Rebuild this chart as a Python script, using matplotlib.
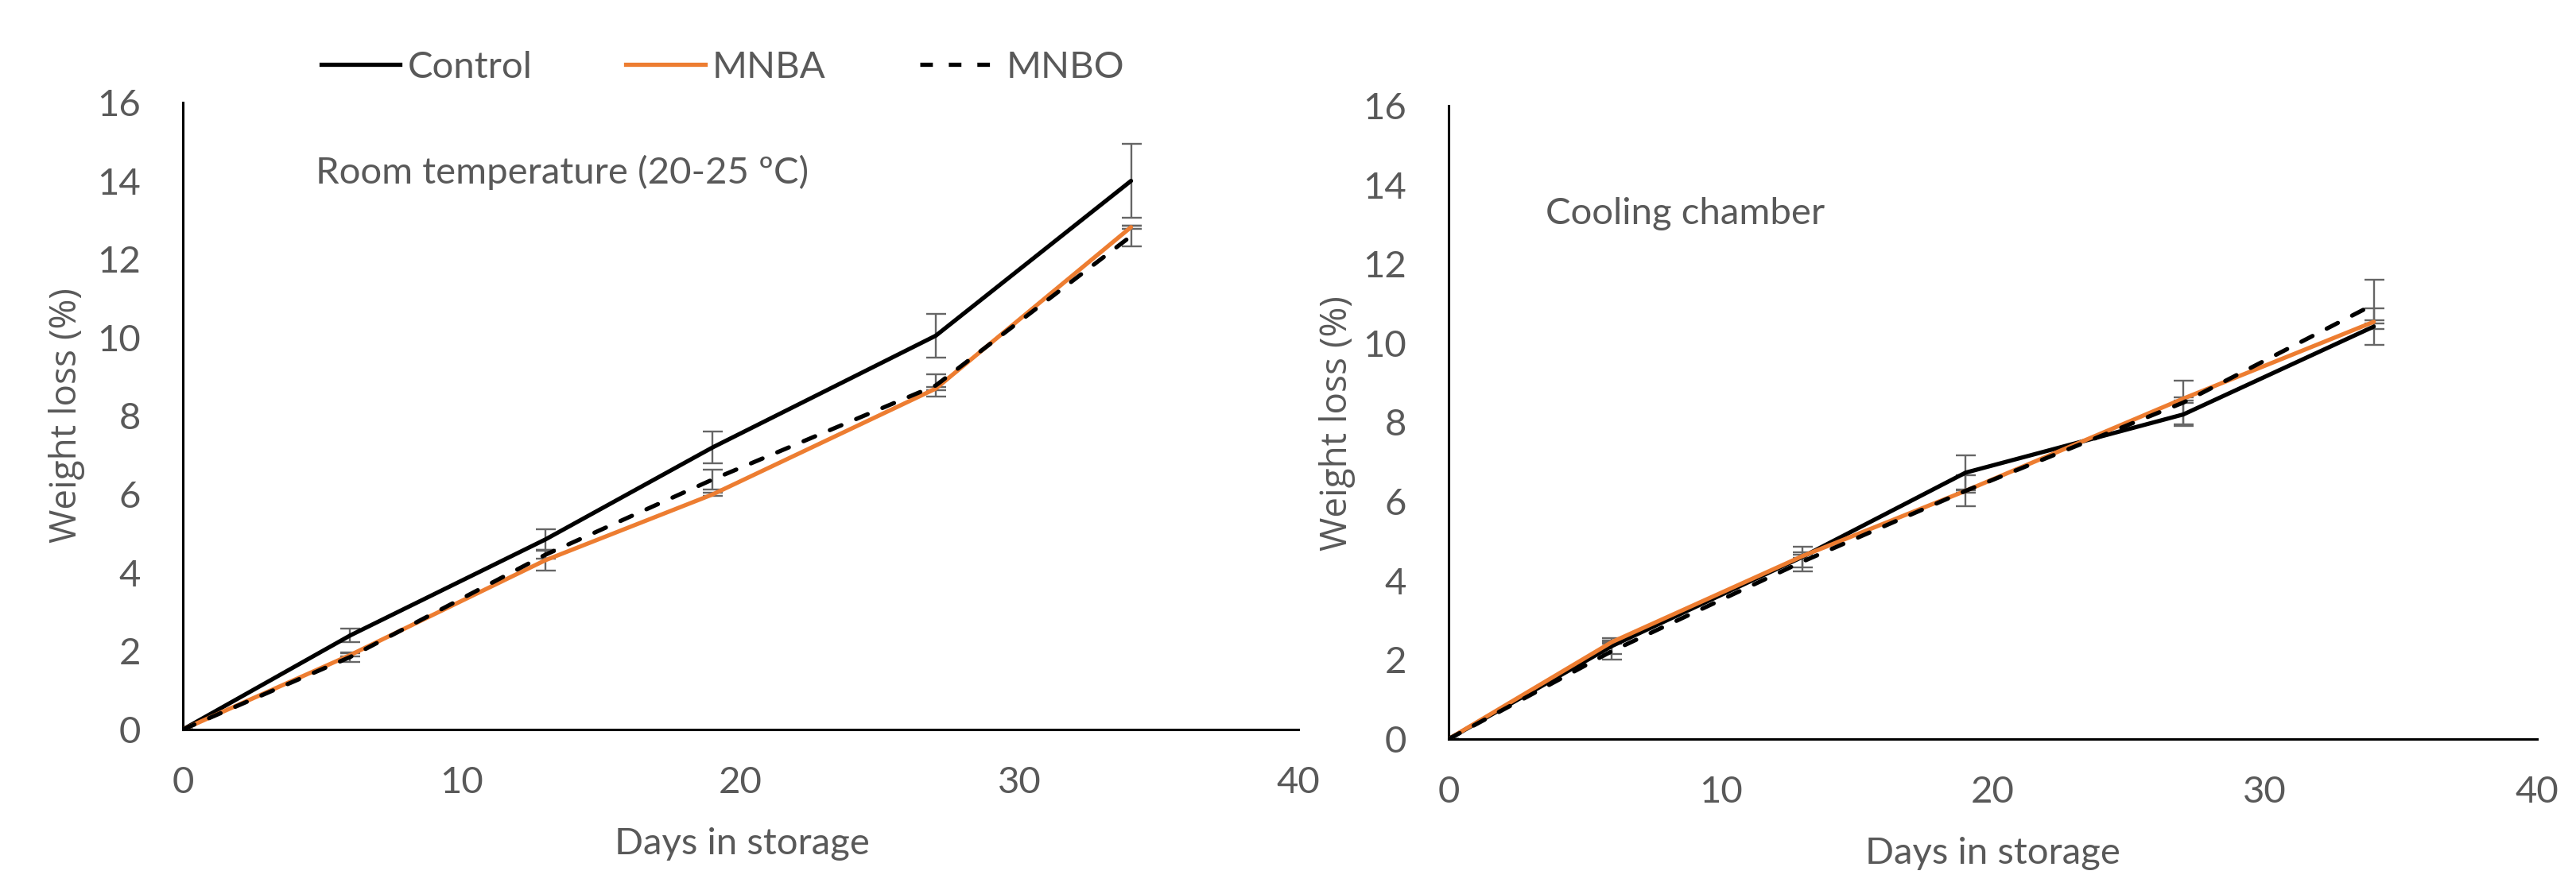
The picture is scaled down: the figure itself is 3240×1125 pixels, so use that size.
import matplotlib
matplotlib.use("Agg")
import matplotlib.pyplot as plt
from matplotlib.lines import Line2D

days = [0, 6, 13, 19, 27, 34]

# Room temperature (20-25 ºC)
room_control = [0, 2.4, 4.85, 7.2, 10.05, 14.0]
room_control_err = [0, 0.17, 0.26, 0.4, 0.55, 0.95]
room_mnba = [0, 1.9, 4.32, 6.0, 8.7, 12.82]
room_mnba_err = [0, 0.04, 0.26, 0.04, 0.04, 0.04]
room_mnbo = [0, 1.85, 4.46, 6.38, 8.78, 12.59]
room_mnbo_err = [0, 0.12, 0.1, 0.25, 0.28, 0.27]

# Cooling chamber
cool_control = [0, 2.35, 4.6, 6.73, 8.2, 10.42]
cool_control_err = [0, 0.2, 0.26, 0.44, 0.3, 0.47]
cool_mnba = [0, 2.45, 4.62, 6.27, 8.6, 10.54]
cool_mnba_err = [0, 0.04, 0.04, 0.04, 0.04, 0.04]
cool_mnbo = [0, 2.22, 4.48, 6.27, 8.5, 10.98]
cool_mnbo_err = [0, 0.22, 0.24, 0.39, 0.56, 0.62]

series_names = ["Control", "MNBA", "MNBO"]
x_ticks = [0, 10, 20, 30, 40]
y_ticks = [0, 2, 4, 6, 8, 10, 12, 14, 16]
panel_titles = ["Room temperature (20-25 ºC)", "Cooling chamber"]
x_label = "Days in storage"
y_label = "Weight loss (%)"

TXT = "#595959"
ORANGE = "#ED7D31"
ERR = "#666666"
FONT = "Lato"
LW = 3.8

fig = plt.figure(figsize=(32.41, 11.25), dpi=100)
ax1 = fig.add_axes([230/3241, 1-918/1125, (1633-230)/3241, (918-129)/1125])
ax2 = fig.add_axes([1822/3241, 1-930/1125, (3191-1822)/3241, (930-133)/1125])

styles = [
    dict(color="black", linestyle="-"),
    dict(color=ORANGE, linestyle="-"),
    dict(color="black", linestyle=(0, (3.0, 3.8))),
]

def draw(ax, vals, errs):
    for v, e, st in zip(vals, errs, styles):
        ax.errorbar(days, v, yerr=e, fmt="none", ecolor=ERR, elinewidth=1.7,
                    capsize=9, capthick=1.7, zorder=2)
    for v, st in zip(vals, styles):
        ax.plot(days, v, linewidth=LW, solid_capstyle="round",
                dash_capstyle="round", solid_joinstyle="round", zorder=3, **st)
    ax.set_xlim(0, 40)
    ax.set_ylim(0, 16)
    ax.set_xticks(x_ticks)
    ax.set_yticks(y_ticks)
    for s in ["top", "right"]:
        ax.spines[s].set_visible(False)
    for s in ["left", "bottom"]:
        ax.spines[s].set_linewidth(2.2)
        ax.spines[s].set_color("black")
    ax.tick_params(axis="both", length=0, labelsize=34, labelcolor=TXT)
    ax.tick_params(axis="x", pad=33)
    ax.tick_params(axis="y", pad=38)
    for lab in ax.get_xticklabels() + ax.get_yticklabels():
        lab.set_fontfamily(FONT)

draw(ax1, [room_control, room_mnba, room_mnbo],
     [room_control_err, room_mnba_err, room_mnbo_err])
draw(ax2, [cool_control, cool_mnba, cool_mnbo],
     [cool_control_err, cool_mnba_err, cool_mnbo_err])

# axis labels
fig.text(84/3241, 1-523/1125, y_label, rotation=90, ha="center", va="center",
         fontsize=33, color=TXT, family="Open Sans")
fig.text(1682/3241, 1-533/1125, y_label, rotation=90, ha="center", va="center",
         fontsize=33, color=TXT, family="Open Sans")
fig.text(933/3241, 1-1062/1125, x_label, ha="center", va="center",
         fontsize=34, color=TXT, family=FONT)
fig.text(2506/3241, 1-1074/1125, x_label, ha="center", va="center",
         fontsize=34, color=TXT, family=FONT)

# panel annotations
fig.text(397/3241, 1-217/1125, panel_titles[0], ha="left", va="center",
         fontsize=34, color=TXT, family=FONT)
fig.text(1944/3241, 1-269/1125, panel_titles[1], ha="left", va="center",
         fontsize=34, color=TXT, family=FONT)

# legend
handles = [Line2D([0], [0], linewidth=LW, **st) for st in styles]
leg = fig.legend(handles, series_names, loc="center", ncol=3,
                 bbox_to_anchor=(909/3241, 1-85/1125), frameon=False,
                 prop=dict(family=FONT, size=34), labelcolor=TXT,
                 handlelength=2.1, handletextpad=0.2, columnspacing=2.5,
                 borderpad=0)

fig.savefig("out.png", dpi=100)
